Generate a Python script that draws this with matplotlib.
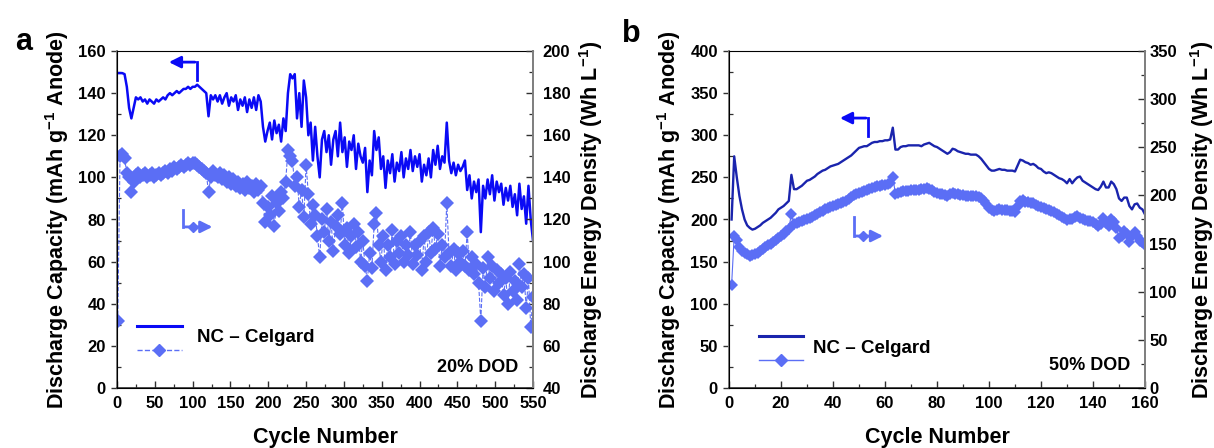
import numpy as np
import matplotlib
matplotlib.use('Agg')
import matplotlib.pyplot as plt
from matplotlib.ticker import MultipleLocator

plt.rcParams['font.family'] = ['Liberation Sans', 'DejaVu Sans']
plt.rcParams['font.weight'] = 'bold'
plt.rcParams['mathtext.fontset'] = 'custom'
plt.rcParams['mathtext.rm'] = 'Liberation Sans:bold'
plt.rcParams['mathtext.bf'] = 'Liberation Sans:bold'
plt.rcParams['mathtext.default'] = 'bf'

# ---- panel a : 20% DOD, every 3rd cycle ----
cycles_a = np.arange(1, 551, 3)
cap_a = [149.5, 149.5, 149.5, 149, 143, 133, 128, 133, 138, 137,
         138, 136, 137, 135, 137, 136, 135, 137, 136, 137,
         138, 137, 139, 140, 139, 140, 141, 140, 141, 142,
         142, 143, 142, 143, 143, 144, 143, 142, 141, 140,
         129, 139, 137, 139, 136, 139, 135, 138, 140, 134,
         138, 136, 139, 132, 137, 134, 138, 131, 137, 133,
         138, 132, 139, 136, 124, 117, 122, 126, 118, 127,
         121, 125, 117, 128, 122, 140, 149, 147, 149, 128,
         140, 124, 146, 138, 120, 126, 108, 124, 110, 100,
         118, 122, 112, 120, 106, 118, 122, 110, 126, 112,
         119, 105, 117, 113, 120, 104, 116, 110, 107, 114,
         93, 108, 101, 122, 113, 119, 104, 110, 95, 108,
         102, 111, 98, 107, 103, 112, 100, 109, 104, 113,
         103, 110, 105, 111, 98, 106, 101, 109, 100, 113,
         106, 115, 104, 110, 107, 126, 108, 102, 107, 101,
         106, 103, 105, 108, 94, 101, 90, 98, 93, 99,
         74, 96, 90, 99, 92, 101, 89, 98, 93, 97,
         87, 95, 89, 96, 86, 92, 82, 97, 85, 91,
         78, 96, 80, 70]
energy_a = [72, 150, 151, 149, 142, 140, 133, 138, 141, 142,
            140, 141, 142, 140, 141, 142, 140, 141, 142, 141,
            142, 143, 142, 144, 143, 145, 144, 145, 146, 145,
            146, 147, 146, 147, 147, 146, 145, 144, 143, 142,
            133, 140, 143, 141, 140, 142, 139, 141, 138, 140,
            137, 139, 136, 138, 135, 137, 134, 138, 135, 136,
            133, 137, 134, 136, 128, 119, 126, 122, 131, 117,
            128, 124, 133, 130, 138, 153, 150, 148, 136, 140,
            126, 134, 121, 146, 132, 118, 127, 122, 112, 102,
            120, 114, 125, 110, 119, 105, 117, 122, 113, 128,
            108, 116, 104, 112, 118, 107, 114, 100, 110, 98,
            91, 104, 97, 118, 123, 108, 100, 112, 96, 108,
            102, 115, 99, 110, 104, 112, 100, 108, 103, 114,
            99, 108, 103, 110, 96, 112, 100, 114, 104, 116,
            106, 113, 98, 108, 102, 128, 104, 98, 106, 96,
            104, 100, 105, 98, 114, 96, 102, 94, 99, 90,
            72, 97, 88, 102, 92, 98, 86, 96, 90, 94,
            84, 92, 80, 95, 86, 91, 82, 99, 88, 94,
            78, 92, 69, 83]

# ---- panel b : 50% DOD, every cycle ----
cycles_b = np.arange(1, 161)
cap_b = [200, 275, 250, 228, 212, 200, 193, 190, 188, 189,
         191, 193, 196, 198, 200, 202, 205, 208, 212, 214,
         216, 219, 222, 253, 236, 236, 238, 240, 243, 246,
         247, 249, 251, 254, 256, 258, 259, 261, 263, 264,
         265, 266, 268, 270, 272, 274, 276, 279, 282, 285,
         286, 287, 287, 289, 291, 292, 292, 293, 293, 294,
         294, 295, 309, 283, 283, 286, 287, 287, 288, 288,
         288, 288, 288, 287, 289, 290, 291, 289, 287, 286,
         284, 282, 280, 278, 280, 284, 283, 281, 280, 279,
         278, 278, 277, 277, 277, 275, 272, 268, 264, 260,
         258, 258, 259, 260, 259, 259, 258, 258, 258, 257,
         264, 271, 270, 268, 267, 265, 266, 264, 261, 260,
         257, 255, 256, 255, 253, 251, 249, 248, 246, 243,
         248, 243, 247, 250, 251, 246, 244, 242, 240, 238,
         236, 235, 239, 245, 238, 238, 245, 242, 236, 225,
         222, 226, 226, 216, 212, 218, 219, 214, 212, 206]
energy_b = [107, 158, 154, 146, 142, 140, 139, 137, 138, 139,
            140, 142, 144, 146, 148, 150, 152, 154, 156, 158,
            160, 163, 165, 181, 170, 171, 172, 173, 174, 175,
            177, 178, 180, 181, 183, 184, 186, 187, 188, 189,
            190, 191, 192, 193, 194, 196, 198, 200, 202, 203,
            204, 205, 206, 207, 208, 209, 210, 210, 211, 211,
            212, 213, 219, 202, 203, 204, 205, 205, 205, 206,
            206, 206, 206, 207, 207, 208, 207, 206, 204, 203,
            202, 201, 200, 199, 201, 203, 202, 201, 200, 200,
            199, 199, 199, 199, 199, 198, 197, 194, 191, 187,
            185, 184, 185, 186, 185, 185, 185, 184, 184, 183,
            189, 194, 195, 193, 193, 192, 192, 190, 189, 188,
            187, 186, 185, 184, 183, 181, 180, 178, 177, 174,
            176, 175, 178, 179, 177, 175, 174, 173, 173, 172,
            170, 168, 170, 177, 171, 168, 175, 172, 166, 156,
            158, 163, 160, 152, 158, 162, 158, 153, 152, 149]

light = '#5b6ef5'
blue = '#0a0af5'
navy = '#1a24ad'
FS_TICK = 12
FS_LAB = 15.5


def style_axes(ax, ax2):
    for s in ('left', 'right'):
        ax.spines[s].set_color('#808080')
        ax.spines[s].set_linewidth(1.4)
    ax.spines['bottom'].set_color('#303030')
    ax.spines['bottom'].set_linewidth(1.2)
    ax.spines['top'].set_color('black')
    ax.spines['top'].set_linewidth(0.8)
    ax2.spines['right'].set_color('#808080')
    ax2.spines['right'].set_linewidth(1.4)
    ax2.spines['top'].set_visible(False)
    ax.tick_params(axis='x', which='major', direction='in', length=5, width=1.0,
                   labelsize=FS_TICK, pad=6, color='#303030')
    ax.tick_params(axis='x', which='minor', direction='in', length=3, width=0.9, color='#303030')
    ax.tick_params(axis='y', which='major', direction='out', length=4, width=1.0,
                   labelsize=FS_TICK, pad=4, color='#303030')
    ax.tick_params(axis='y', which='minor', direction='in', length=3, width=0.9, color='#303030')
    ax2.tick_params(axis='y', which='major', direction='in', length=5, width=1.0,
                    labelsize=FS_TICK, pad=7, color='#303030')
    ax2.tick_params(axis='y', which='minor', direction='in', length=3, width=0.9, color='#303030')
    for lab in ax.get_xticklabels() + ax.get_yticklabels() + ax2.get_yticklabels():
        lab.set_fontweight('bold')


def arrows(ax, left_pts, right_pts, c_left, c_right, ms):
    (tx, cx, ty, by) = left_pts
    ax.plot([cx, cx], [by, ty], color=c_left, lw=2, transform=ax.transAxes, clip_on=False)
    ax.annotate('', xy=(tx, ty), xytext=(cx + 0.002, ty), xycoords='axes fraction',
                arrowprops=dict(arrowstyle='-|>,head_length=0.7,head_width=0.35',
                                color=c_left, lw=2))
    (vx, ex, ty2, by2, dx) = right_pts
    ax.plot([vx, vx], [ty2, by2], color=c_right, lw=2, transform=ax.transAxes)
    ax.annotate('', xy=(ex, by2), xytext=(vx - 0.002, by2), xycoords='axes fraction',
                arrowprops=dict(arrowstyle='-|>,head_length=0.7,head_width=0.35',
                                color=c_right, lw=2))
    ax.plot([dx], [by2], marker='D', ms=ms, color=c_right, transform=ax.transAxes)


fig = plt.figure(figsize=(12.14, 4.48), dpi=100)

# panel a
ax = fig.add_axes([117 / 1214, 60 / 448, 416 / 1214, 337 / 448])
ax2 = ax.twinx()
ax.plot(cycles_a, cap_a, color=blue, lw=1.8, zorder=3)
ax2.plot(cycles_a, energy_a, color=light, lw=0.8, ls='--', marker='D', ms=7.5,
         markeredgewidth=0)
ax.set_xlim(0, 550)
ax.set_ylim(0, 160)
ax2.set_ylim(40, 200)
ax.xaxis.set_major_locator(MultipleLocator(50))
ax.xaxis.set_minor_locator(MultipleLocator(25))
ax.yaxis.set_major_locator(MultipleLocator(20))
ax.yaxis.set_minor_locator(MultipleLocator(10))
ax2.yaxis.set_major_locator(MultipleLocator(20))
ax2.yaxis.set_minor_locator(MultipleLocator(10))
style_axes(ax, ax2)
ax.set_xlabel('Cycle Number', fontsize=FS_LAB, fontweight='bold', labelpad=11)
ax.set_ylabel('Discharge Capacity (mAh g$^{-1}$ Anode)', fontsize=FS_LAB,
              fontweight='bold', labelpad=5)
ax2.set_ylabel('Discharge Energy Density (Wh L$^{-1}$)', fontsize=FS_LAB,
               fontweight='bold', labelpad=5)
arrows(ax, (0.118, 0.192, 0.967, 0.914), (0.159, 0.236, 0.528, 0.478, 0.183),
       blue, light, 5)
ax.plot([0.048, 0.156], [0.184, 0.184], color=blue, lw=2.2, transform=ax.transAxes)
ax.plot([0.048, 0.156], [0.113, 0.113], color=light, lw=1, ls='--', transform=ax.transAxes)
ax.plot([0.101], [0.113], marker='D', ms=6, color=light, transform=ax.transAxes)
ax.text(0.192, 0.151, 'NC \u2013 Celgard', transform=ax.transAxes, fontsize=13.5,
        fontweight='bold', va='center', ha='left')
ax.text(0.964, 0.062, '20% DOD', transform=ax.transAxes, fontsize=13,
        fontweight='bold', va='center', ha='right')

# panel b
bx = fig.add_axes([729 / 1214, 60 / 448, 416 / 1214, 337 / 448])
bx2 = bx.twinx()
bx.plot(cycles_b, cap_b, color=navy, lw=1.7, zorder=3)
bx2.plot(cycles_b, energy_b, color=light, lw=0.8, marker='D', ms=6.5, markeredgewidth=0)
bx.set_xlim(0, 160)
bx.set_ylim(0, 400)
bx2.set_ylim(0, 350)
bx.xaxis.set_major_locator(MultipleLocator(20))
bx.xaxis.set_minor_locator(MultipleLocator(10))
bx.yaxis.set_major_locator(MultipleLocator(50))
bx.yaxis.set_minor_locator(MultipleLocator(25))
bx2.yaxis.set_major_locator(MultipleLocator(50))
bx2.yaxis.set_minor_locator(MultipleLocator(25))
style_axes(bx, bx2)
bx2.tick_params(axis='y', which='major', pad=3)
bx.set_xlabel('Cycle Number', fontsize=FS_LAB, fontweight='bold', labelpad=11)
bx.set_ylabel('Discharge Capacity (mAh g$^{-1}$ Anode)', fontsize=FS_LAB,
              fontweight='bold', labelpad=5)
bx2.set_ylabel('Discharge Energy Density (Wh L$^{-1}$)', fontsize=FS_LAB,
               fontweight='bold', labelpad=8)
arrows(bx, (0.260, 0.334, 0.801, 0.748), (0.300, 0.377, 0.507, 0.451, 0.322),
       blue, light, 5)
bx.plot([0.072, 0.178], [0.154, 0.154], color=navy, lw=2.2, transform=bx.transAxes)
bx.plot([0.072, 0.178], [0.083, 0.083], color=light, lw=1, transform=bx.transAxes)
bx.plot([0.125], [0.083], marker='D', ms=6, color=light, transform=bx.transAxes)
bx.text(0.202, 0.116, 'NC \u2013 Celgard', transform=bx.transAxes, fontsize=13.5,
        fontweight='bold', va='center', ha='left')
bx.text(0.964, 0.068, '50% DOD', transform=bx.transAxes, fontsize=13,
        fontweight='bold', va='center', ha='right')

fig.text(15 / 1214, 1 - 50 / 448, 'a', fontsize=22, fontweight='bold', va='baseline')
fig.text(622 / 1214, 1 - 42 / 448, 'b', fontsize=22, fontweight='bold', va='baseline')

fig.savefig('out.png', dpi=100)
